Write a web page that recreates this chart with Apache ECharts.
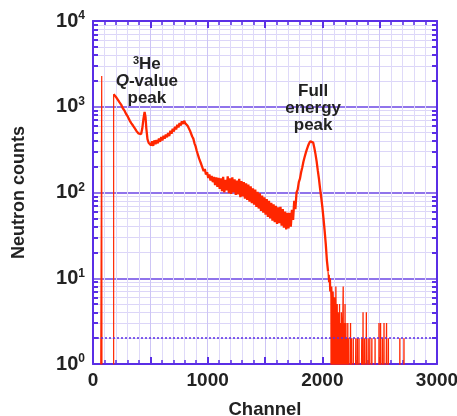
<!DOCTYPE html>
<html>
<head>
<meta charset="utf-8">
<script src="https://cdn.jsdelivr.net/npm/echarts@6/dist/echarts.min.js"></script>
<style>
  html, body { margin: 0; padding: 0; background: #fff; }
  #chart { width: 457px; height: 416px; }
</style>
</head>
<body>
<div id="chart"></div>
<script>
// counts (0 = empty channel)
// lead: the isolated spike and the jump up at channel 180
const leadChannels = [60, 76, 76, 80, 180, 180];
const leadCounts = [0, 0, 2290, 0, 0, 1400];

// body: continuum, 3He Q-value peak and full energy peak
const bodyChannels = [
  180, 190, 200, 215, 230, 245, 260, 275, 290, 305, 320, 335, 350, 365, 380, 395, 410, 420, 430, 440, 450, 458, 465, 475, 485,
  495, 505, 515, 525, 535, 545, 555, 565, 575, 585, 595, 605, 615, 625, 635, 645, 655, 665, 675, 685, 695, 705, 715, 725,
  735, 745, 755, 765, 775, 785, 795, 805, 815, 825, 835, 845, 855, 865, 875, 885, 895, 905, 915, 925, 935, 945, 955, 965,
  975, 985, 995, 1005, 1015, 1025, 1035, 1045, 1055,
  1065, 1075, 1085, 1095, 1105, 1115, 1125, 1135, 1145, 1155, 1165, 1175, 1185, 1195, 1205, 1215, 1225, 1235, 1245, 1255,
  1265, 1275, 1285, 1295, 1305, 1315, 1325, 1335, 1345, 1355, 1365, 1375, 1385, 1395, 1405, 1415, 1425, 1435, 1445, 1455,
  1465, 1475, 1485, 1495, 1505, 1515, 1525, 1535, 1545, 1555, 1565, 1575, 1585, 1595, 1605, 1615, 1625, 1635, 1645, 1655,
  1665, 1675, 1685, 1695, 1705, 1715, 1725, 1735, 1745, 1755, 1765,
  1775, 1785, 1795, 1805, 1815, 1825, 1835, 1845, 1855, 1865, 1875, 1885, 1895, 1905, 1912, 1920, 1930, 1940, 1950, 1960,
  1970, 1980, 1990, 2000, 2010, 2020, 2030, 2040, 2050
];
const bodyCounts = [
  1400, 1380, 1300, 1240, 1130, 1060, 960, 900, 820, 760, 690, 640, 600, 560, 520, 490, 470, 480, 560, 720, 870, 760, 560, 420, 380,
  400, 355, 395, 350, 405, 365, 410, 375, 425, 390, 445, 405, 460, 425, 475, 440, 495, 455, 525, 485, 555, 515, 585, 545,
  615, 575, 645, 605, 675, 630, 685, 640, 660, 600, 590, 530, 505, 450, 425, 375, 345, 305, 290, 250, 240, 212, 205, 178,
  188, 162, 172, 148, 162, 138, 156, 132, 152,
  122, 150, 116, 148, 110, 146, 104, 152, 100, 140, 106, 154, 98, 146, 96, 150, 100, 142, 94, 138,
  95, 144, 88, 136, 90, 132, 85, 128, 82, 124, 78, 118, 75, 112, 72, 108, 68, 102, 65, 98,
  61, 92, 58, 88, 55, 84, 52, 80, 50, 76, 47, 73, 45, 70, 43, 67, 44, 68, 41, 64,
  39, 60, 37, 58, 38, 58, 40, 63, 48, 80, 64,
  100, 108, 132, 145, 172, 196, 228, 258, 288, 318, 348, 375, 396, 412, 405, 382, 332, 282, 232, 182,
  146, 112, 88, 68, 50, 36, 25, 16, 12
];

// tail: sparse counts above the full energy peak
const tailChannels = [
  2050, 2055, 2060, 2065, 2070, 2075, 2079, 2082, 2086, 2090, 2094, 2098, 2102, 2106, 2110, 2114, 2118, 2122, 2126, 2130, 2134,
  2138, 2142, 2146, 2150, 2154, 2158, 2162, 2166, 2170, 2174, 2178, 2182, 2186, 2190, 2194, 2198, 2202, 2206, 2210, 2214,
  2218, 2222, 2226, 2230, 2234, 2242, 2246, 2250, 2254, 2258, 2266, 2270, 2274, 2288, 2292, 2296, 2302, 2306, 2310, 2316,
  2320, 2324, 2340, 2344, 2348, 2352, 2355, 2358, 2364, 2368, 2372, 2380, 2384, 2388, 2396, 2400, 2404, 2410, 2414, 2418,
  2428, 2432, 2436, 2456, 2460, 2464, 2490, 2494, 2498, 2504, 2508, 2512, 2520, 2524, 2528, 2534, 2538, 2542, 2556, 2560,
  2564, 2572, 2576, 2580, 2672, 2676, 2680, 2708, 2712, 2716
];
const tailCounts = [
  12, 9, 11, 7, 10, 6, 0, 8, 5, 0, 7, 4, 0, 6, 3, 0, 8, 2, 0, 5, 0,
  4, 2, 0, 5, 0, 3, 0, 4, 2, 0, 3, 8, 0, 3, 0, 5, 0, 3, 0, 2,
  0, 3, 0, 2, 0, 0, 3, 0, 2, 0, 0, 2, 0, 0, 2, 0, 0, 2, 0, 0,
  2, 0, 0, 2, 0, 0, 4, 0, 0, 2, 0, 0, 4, 0, 0, 2, 0, 0, 2, 0,
  0, 2, 0, 0, 2, 0, 0, 3, 0, 0, 3, 0, 0, 2, 0, 0, 3, 0, 0, 3,
  0, 0, 2, 0, 0, 2, 0, 0, 2, 0
];

const xTickLabels = ['0', '1000', '2000', '3000'];
const yDecades = [1, 10, 100, 1000, 10000];
const yMinor = [
  2, 3, 4, 5, 6, 7, 8, 9,
  20, 30, 40, 50, 60, 70, 80, 90,
  200, 300, 400, 500, 600, 700, 800, 900,
  2000, 3000, 4000, 5000, 6000, 7000, 8000, 9000
];

const FONT = "'Liberation Sans', Arial, sans-serif";
const FRAME = '#5a2ee6';
const RED = '#ff2600';
const TEXT = '#222';
const LOG_FLOOR = 0.001; // empty channels drop below the log axis

const toPoints = (chs, cts) => chs.map((c, i) => [c, cts[i] > 0 ? cts[i] : LOG_FLOOR]);

const chart = echarts.init(document.getElementById('chart'));
const bold = { fontFamily: FONT, fontWeight: 'bold', color: TEXT };

const xBase = {
  type: 'value',
  min: 0,
  max: 3000,
  interval: 500,
  axisLine: { show: true, onZero: false, lineStyle: { color: FRAME, width: 2 } },
  axisTick: { show: true, inside: true, length: 7, lineStyle: { color: FRAME, width: 2 } },
  minorTick: { show: true, splitNumber: 5, length: 4, lineStyle: { color: FRAME, width: 1.5 } }
};
const yBase = {
  type: 'log',
  logBase: 10,
  min: 1,
  max: 10000,
  axisLine: { show: true, onZero: false, lineStyle: { color: FRAME, width: 2 } },
  axisTick: { show: true, inside: true, length: 5, customValues: yMinor, lineStyle: { color: FRAME, width: 2 } },
  minorTick: { show: false },
  axisLabel: { show: false },
  splitLine: { show: false }
};

chart.setOption({
  animation: false,
  grid: { left: 93, right: 20, top: 21, bottom: 52, outerBoundsMode: 'none' },
  xAxis: [
    Object.assign({}, xBase, {
      position: 'bottom',
      splitLine: { show: true, lineStyle: { color: '#cdc5f5', width: 1 } },
      minorSplitLine: { show: true, lineStyle: { color: '#dfdaf9', width: 1 } },
      axisLabel: Object.assign({
        fontSize: 19,
        margin: 7,
        formatter: v => xTickLabels.includes(String(v)) ? String(v) : ''
      }, bold),
      name: 'Channel',
      nameLocation: 'middle',
      nameGap: 36,
      nameTextStyle: Object.assign({ fontSize: 18.5 }, bold)
    }),
    Object.assign({}, xBase, {
      position: 'top',
      axisLabel: { show: false },
      splitLine: { show: false }
    })
  ],
  yAxis: [
    // left: minor ticks + minor grid, decade labels
    Object.assign({}, yBase, {
      position: 'left',
      splitLine: { show: true, lineStyle: { color: '#dcd6f8', width: 1 } },
      axisLabel: {
        show: true,
        margin: 8,
        customValues: yDecades,
        formatter: v => '{b|10}{e|' + Math.round(Math.log10(v)) + '}',
        rich: {
          b: Object.assign({ fontSize: 20 }, bold),
          e: Object.assign({ fontSize: 12, verticalAlign: 'top', padding: [0, 0, 10, 0] }, bold)
        }
      },
      name: 'Neutron counts',
      nameLocation: 'middle',
      nameGap: 65,
      nameTextStyle: Object.assign({ fontSize: 18 }, bold)
    }),
    // right: minor ticks
    Object.assign({}, yBase, { position: 'right' }),
    // decade grid lines
    Object.assign({}, yBase, {
      position: 'right',
      axisLine: { show: false },
      axisTick: { show: false, customValues: yDecades },
      splitLine: { show: true, lineStyle: { color: '#6b46e4', width: 1.5 } }
    })
  ],
  series: [
    {
      type: 'line',
      data: toPoints(leadChannels, leadCounts),
      showSymbol: false,
      clip: true,
      lineStyle: { color: RED, width: 1.2 }
    },
    {
      type: 'line',
      data: toPoints(bodyChannels, bodyCounts),
      showSymbol: false,
      clip: true,
      sampling: 'none',
      lineStyle: { color: RED, width: 2.3 },
      markLine: {
        silent: true,
        symbol: 'none',
        label: { show: false },
        lineStyle: { color: FRAME, type: [2, 2], width: 1.5 },
        data: [{ yAxis: 2 }]
      },
      markPoint: {
        symbol: 'circle',
        symbolSize: 0,
        silent: true,
        label: {
          show: true,
          align: 'center',
          verticalAlign: 'middle',
          lineHeight: 17,
          rich: {
            t: Object.assign({ fontSize: 17, lineHeight: 17 }, bold),
            q: Object.assign({ fontSize: 17, lineHeight: 17, fontStyle: 'italic' }, bold),
            s: Object.assign({ fontSize: 11, lineHeight: 17, verticalAlign: 'top', padding: [0, 0, 6, 0] }, bold)
          }
        },
        data: [
          { coord: [470, 2000], label: { formatter: '{s|3}{t|He}\n{q|Q}{t|-value}\n{t|peak}' } },
          { coord: [1920, 960], label: { formatter: '{t|Full}\n{t|energy}\n{t|peak}' } }
        ]
      }
    },
    {
      type: 'line',
      data: toPoints(tailChannels, tailCounts),
      showSymbol: false,
      clip: true,
      sampling: 'none',
      lineStyle: { color: RED, width: 1.3 }
    }
  ]
});
</script>
</body>
</html>
